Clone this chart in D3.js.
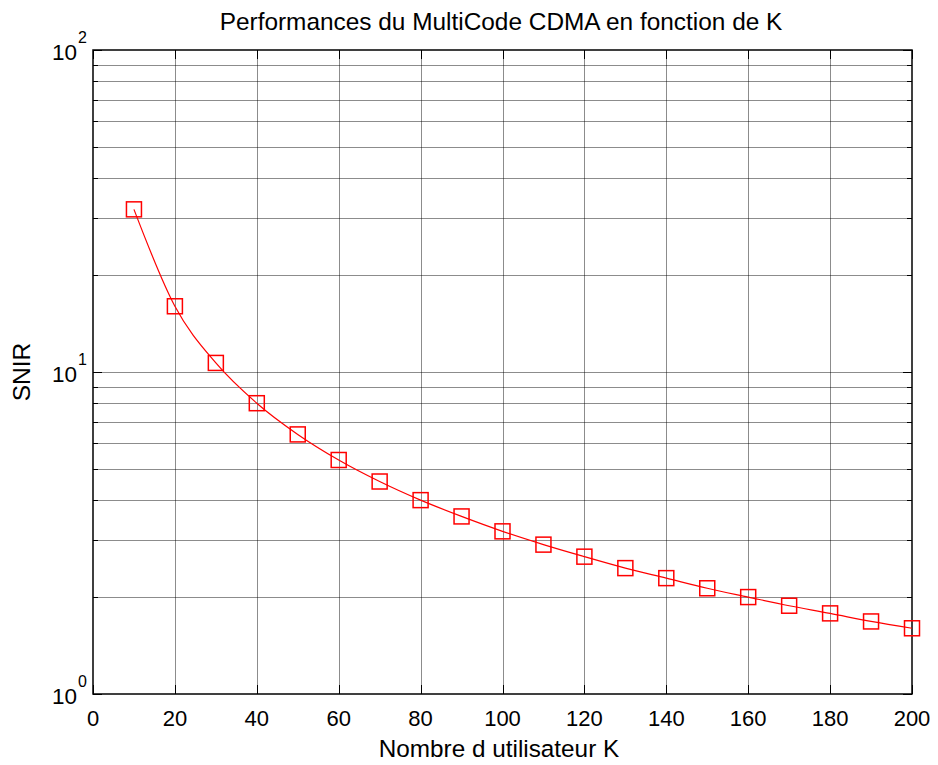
<!DOCTYPE html>
<html>
<head>
<meta charset="utf-8">
<script src="https://cdn.jsdelivr.net/npm/d3@7"></script>
<style>
  body { margin: 0; background: #fff; }
  text { font-family: "Liberation Sans", Arial, sans-serif; fill: #000; }
</style>
</head>
<body>
<div id="chart"></div>
<script>
// data
const users = [10, 20, 30, 40, 50, 60, 70, 80, 90, 100, 110, 120, 130, 140, 150, 160, 170, 180, 190, 200];
const snir = [32, 16, 10.67, 8, 6.4, 5.33, 4.57, 4, 3.56, 3.2, 2.91, 2.67, 2.46, 2.29, 2.13, 2, 1.88, 1.78, 1.68, 1.6];
const xTicks = [0, 20, 40, 60, 80, 100, 120, 140, 160, 180, 200];
const yDecades = [0, 1, 2];

const width = 938, height = 765;
const margin = { top: 50, right: 26, bottom: 71, left: 93 };

const svg = d3.select('#chart').append('svg')
    .attr('width', width)
    .attr('height', height);

const x = d3.scaleLinear().domain([0, 200]).range([margin.left, width - margin.right]);
const y = d3.scaleLog().domain([1, 100]).range([height - margin.bottom, margin.top]);

const x0 = margin.left, x1 = width - margin.right;
const y0 = height - margin.bottom, y1 = margin.top;

// minor log values (2..9 of each decade) + decades
const minorVals = [];
for (let d = 0; d < 2; d++) {
    for (let m = 2; m <= 9; m++) minorVals.push(m * Math.pow(10, d));
}
const majorVals = yDecades.map(d => Math.pow(10, d));

const grid = svg.append('g').attr('stroke', '#000').attr('stroke-opacity', 0.45).attr('stroke-width', 1);

grid.selectAll('.hg')
    .data(minorVals.concat(majorVals.slice(1, 2)))
    .enter().append('line')
    .attr('x1', x0).attr('x2', x1)
    .attr('y1', d => Math.round(y(d)) + 0.5)
    .attr('y2', d => Math.round(y(d)) + 0.5);

grid.selectAll('.vg')
    .data(xTicks.slice(1, -1))
    .enter().append('line')
    .attr('y1', y0).attr('y2', y1)
    .attr('x1', d => Math.round(x(d)) + 0.5)
    .attr('x2', d => Math.round(x(d)) + 0.5);

// ticks (inward)
const ticks = svg.append('g').attr('stroke', '#000').attr('stroke-width', 1);
xTicks.forEach(t => {
    const px = Math.round(x(t)) + 0.5;
    ticks.append('line').attr('x1', px).attr('x2', px).attr('y1', y0).attr('y2', y0 - 9);
    ticks.append('line').attr('x1', px).attr('x2', px).attr('y1', y1).attr('y2', y1 + 9);
});
minorVals.forEach(v => {
    const py = Math.round(y(v)) + 0.5;
    ticks.append('line').attr('x1', x0).attr('x2', x0 + 5).attr('y1', py).attr('y2', py);
    ticks.append('line').attr('x1', x1).attr('x2', x1 - 5).attr('y1', py).attr('y2', py);
});
majorVals.forEach(v => {
    const py = Math.round(y(v)) + 0.5;
    ticks.append('line').attr('x1', x0).attr('x2', x0 + 9).attr('y1', py).attr('y2', py);
    ticks.append('line').attr('x1', x1).attr('x2', x1 - 9).attr('y1', py).attr('y2', py);
});

// axes box
svg.append('rect')
    .attr('x', x0).attr('y', y1)
    .attr('width', x1 - x0).attr('height', y0 - y1)
    .attr('fill', 'none')
    .attr('stroke', '#000')
    .attr('stroke-width', 1.5);

// x tick labels
svg.append('g').selectAll('text')
    .data(xTicks)
    .enter().append('text')
    .attr('x', d => x(d))
    .attr('y', y0 + 32)
    .attr('text-anchor', 'middle')
    .attr('font-size', 22)
    .text(d => d);

// y tick labels as 10^n : base then exponent
const yLab = svg.append('g');
yLab.selectAll('.base')
    .data(yDecades)
    .enter().append('text')
    .attr('x', x0 - 16)
    .attr('y', d => y(Math.pow(10, d)) + 10)
    .attr('text-anchor', 'end')
    .attr('font-size', 22.5)
    .text('10');
yLab.selectAll('.exp')
    .data(yDecades)
    .enter().append('text')
    .attr('x', x0 - 15)
    .attr('y', d => y(Math.pow(10, d)) - 7)
    .attr('text-anchor', 'start')
    .attr('font-size', 16)
    .text(d => d);

// series line
const line = d3.line()
    .x((d, i) => x(users[i]))
    .y(d => y(d))
    .curve(d3.curveMonotoneX);

svg.append('path')
    .datum(snir)
    .attr('d', line)
    .attr('fill', 'none')
    .attr('stroke', '#ff0000')
    .attr('stroke-width', 1.2);

// square markers
svg.append('g').selectAll('rect')
    .data(snir)
    .enter().append('rect')
    .attr('x', (d, i) => x(users[i]) - 7.5)
    .attr('y', d => y(d) - 7.5)
    .attr('width', 15)
    .attr('height', 15)
    .attr('fill', 'none')
    .attr('stroke', '#ff0000')
    .attr('stroke-width', 1.5);

// title and axis labels
svg.append('text')
    .attr('x', 501)
    .attr('y', 30)
    .attr('text-anchor', 'middle')
    .attr('font-size', 24.4)
    .text('Performances du MultiCode CDMA en fonction de K');

svg.append('text')
    .attr('x', 499)
    .attr('y', 757)
    .attr('text-anchor', 'middle')
    .attr('font-size', 24.3)
    .text('Nombre d utilisateur K');

svg.append('text')
    .attr('transform', `translate(30, ${(y0 + y1) / 2}) rotate(-90)`)
    .attr('text-anchor', 'middle')
    .attr('font-size', 24.5)
    .text('SNIR');
</script>
</body>
</html>
